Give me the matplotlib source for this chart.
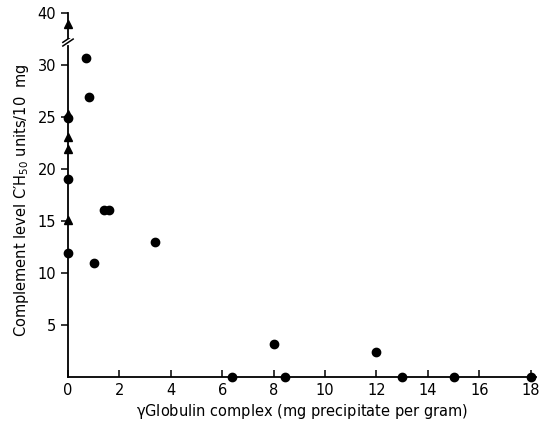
import matplotlib
matplotlib.use("Agg")
import matplotlib.pyplot as plt

# circles: (x, y)
circle_x = [0, 0, 0, 0.7, 0.8, 1.0, 1.4, 1.6, 3.4, 8.0, 12.0, 6.4, 8.45, 13.0, 15.0, 18.0]
circle_y = [11.9, 19.0, 24.9, 30.6, 26.9, 11.0, 16.0, 16.0, 13.0, 3.2, 2.4, 0, 0, 0, 0, 0]

# triangles, all at x = 0
tri_x = [0, 0, 0, 0, 0]
tri_y = [15.1, 21.9, 23.1, 25.3, 39.0]

x_ticks = [0, 2, 4, 6, 8, 10, 12, 14, 16, 18]
y_ticks_low = [5, 10, 15, 20, 25, 30]
y_ticks_high = [40]


def in_range(xs, ys, lo, hi):
    pts = [(x, y) for x, y in zip(xs, ys) if lo <= y <= hi]
    return [p[0] for p in pts], [p[1] for p in pts]


def main():
    plt.rcParams["font.family"] = ["DejaVu Sans"]
    plt.rcParams["mathtext.default"] = "regular"

    fig = plt.figure(figsize=(5.41, 4.26), dpi=100)
    ax = fig.add_axes([0.1257, 0.115, 0.8646, 0.777])
    ax_top = fig.add_axes([0.1257, 0.911, 0.8646, 0.058], sharex=ax)

    for a, (lo, hi) in ((ax, (0, 31.8)), (ax_top, (37.6, 40))):
        a.set_ylim(lo, hi)
        a.spines["top"].set_visible(False)
        a.spines["right"].set_visible(False)
        a.spines["left"].set_linewidth(1.3)
        cx, cy = in_range(circle_x, circle_y, lo, hi)
        tx, ty = in_range(tri_x, tri_y, lo, hi)
        a.plot(cx, cy, "o", color="black", markersize=6, clip_on=False)
        a.plot(tx, ty, "^", color="black", markersize=6, clip_on=False)
        a.tick_params(axis="y", direction="out", length=5, width=1.1, labelsize=10.5)

    ax.set_xlim(0, 18.2)
    ax.set_xticks(x_ticks)
    ax.set_yticks(y_ticks_low)
    ax.spines["bottom"].set_linewidth(1.3)
    ax.tick_params(axis="x", direction="in", length=5, width=1.1, labelsize=10.5, pad=4)

    ax_top.set_yticks(y_ticks_high)
    ax_top.spines["bottom"].set_visible(False)
    ax_top.tick_params(axis="x", bottom=False, labelbottom=False)

    # break marks on the y axis
    for dy in (0.0, 0.011):
        ax.plot([-0.011, 0.011], [1.0 + dy, 1.021 + dy], color="black",
                lw=1.1, transform=ax.transAxes, clip_on=False)

    ax.set_xlabel("$\\gamma$Globulin complex (mg precipitate per gram)", fontsize=10.5, labelpad=3)
    fig.text(0.04, 0.53, "Complement level C\u2032H$_{50}$ units/10  mg",
             rotation=90, ha="center", va="center", fontsize=10.5)

    fig.savefig("out.png", dpi=100)


if __name__ == "__main__":
    main()
